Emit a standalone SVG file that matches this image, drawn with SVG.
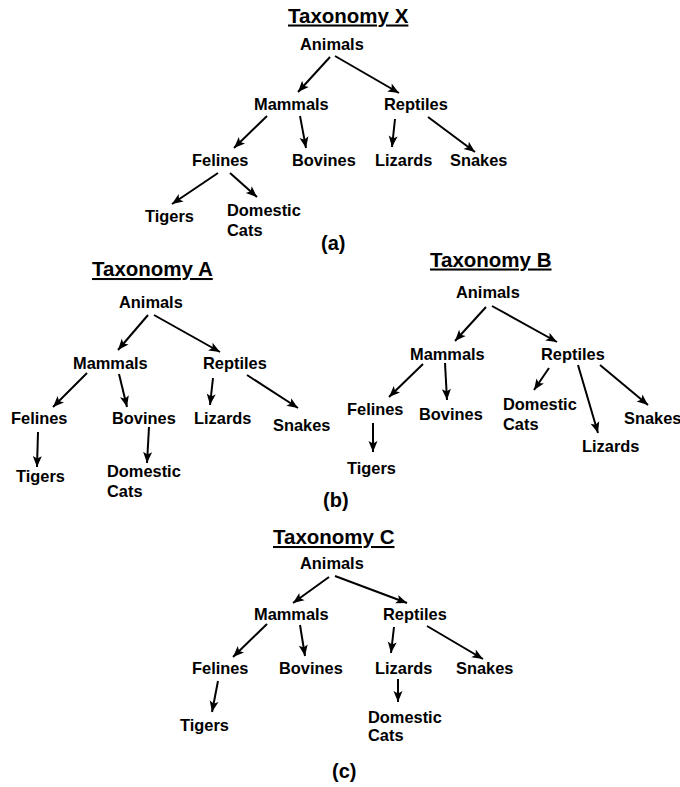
<svg xmlns="http://www.w3.org/2000/svg" width="680" height="787" viewBox="0 0 680 787">
<defs>
<marker id="ah" markerUnits="userSpaceOnUse" markerWidth="12" markerHeight="10" refX="11" refY="4.5" orient="auto" overflow="visible">
<path d="M0,0 L11,4.5 L0,9 L2.5,4.5 Z" fill="#000"/>
</marker>
<style>
text{font-family:"Liberation Sans",Arial,Helvetica,sans-serif;font-weight:bold;fill:#000}
.n{font-size:16.4px}
.t{font-size:20.5px;text-decoration:underline}
.c{font-size:20px}
.e line{stroke:#000;stroke-width:2;marker-end:url(#ah)}
</style>
</defs>
<rect width="680" height="787" fill="#fff"/>

<!-- Taxonomy X -->
<g id="taxX">
<text class="t" x="288" y="22.5">Taxonomy X</text>
<g id="x-animals"><text class="n" x="300" y="50">Animals</text></g>
<g id="x-mammals"><text class="n" x="254" y="110">Mammals</text></g>
<g id="x-reptiles"><text class="n" x="384" y="110">Reptiles</text></g>
<g id="x-felines"><text class="n" x="192" y="166">Felines</text></g>
<g id="x-bovines"><text class="n" x="292" y="166">Bovines</text></g>
<g id="x-lizards"><text class="n" x="375" y="166">Lizards</text></g>
<g id="x-snakes"><text class="n" x="450" y="166">Snakes</text></g>
<g id="x-tigers"><text class="n" x="145" y="221.5">Tigers</text></g>
<g id="x-domestic"><text class="n" x="227" y="216">Domestic</text><text class="n" x="227" y="235.5">Cats</text></g>
<text class="c" x="321" y="250">(a)</text>
</g>
<g id="edgesX" class="e">
<line x1="330" y1="57" x2="298" y2="92"/>
<line x1="335" y1="56" x2="399" y2="93"/>
<line x1="267" y1="116" x2="234" y2="148"/>
<line x1="300" y1="116" x2="306" y2="148"/>
<line x1="395" y1="119" x2="392" y2="147"/>
<line x1="428" y1="117" x2="475" y2="152"/>
<line x1="218" y1="173" x2="172" y2="204"/>
<line x1="230" y1="173" x2="257" y2="197"/>
</g>

<!-- Taxonomy A -->
<g id="taxA">
<text class="t" x="92" y="276">Taxonomy A</text>
<g id="a-animals"><text class="n" x="119" y="307.5">Animals</text></g>
<g id="a-mammals"><text class="n" x="73" y="368.5">Mammals</text></g>
<g id="a-reptiles"><text class="n" x="203" y="368.5">Reptiles</text></g>
<g id="a-felines"><text class="n" x="11" y="424">Felines</text></g>
<g id="a-bovines"><text class="n" x="112" y="424">Bovines</text></g>
<g id="a-lizards"><text class="n" x="194" y="424">Lizards</text></g>
<g id="a-snakes"><text class="n" x="273" y="430.5">Snakes</text></g>
<g id="a-tigers"><text class="n" x="16" y="482">Tigers</text></g>
<g id="a-domestic"><text class="n" x="107" y="476.5">Domestic</text><text class="n" x="107" y="496.5">Cats</text></g>
</g>
<g id="edgesA" class="e">
<line x1="148" y1="315" x2="118" y2="350"/>
<line x1="154" y1="315" x2="220" y2="352"/>
<line x1="87" y1="373" x2="53" y2="407"/>
<line x1="119" y1="374" x2="127" y2="407"/>
<line x1="213" y1="378" x2="210" y2="405"/>
<line x1="247" y1="375" x2="298" y2="408"/>
<line x1="38" y1="432" x2="37" y2="467"/>
<line x1="149" y1="427" x2="147" y2="463"/>
</g>

<text class="c" x="323" y="507">(b)</text>

<!-- Taxonomy B -->
<g id="taxB">
<text class="t" x="430" y="266.5">Taxonomy B</text>
<g id="b-animals"><text class="n" x="456" y="298">Animals</text></g>
<g id="b-mammals"><text class="n" x="410" y="359.5">Mammals</text></g>
<g id="b-reptiles"><text class="n" x="541" y="359.5">Reptiles</text></g>
<g id="b-felines"><text class="n" x="347" y="415">Felines</text></g>
<g id="b-bovines"><text class="n" x="419" y="419.5">Bovines</text></g>
<g id="b-domestic"><text class="n" x="503" y="410">Domestic</text><text class="n" x="503" y="429.5">Cats</text></g>
<g id="b-snakes"><text class="n" x="624" y="424">Snakes</text></g>
<g id="b-lizards"><text class="n" x="582" y="452">Lizards</text></g>
<g id="b-tigers"><text class="n" x="347" y="474">Tigers</text></g>
</g>
<g id="edgesB" class="e">
<line x1="486" y1="307" x2="455" y2="341"/>
<line x1="492" y1="306" x2="557" y2="342"/>
<line x1="423" y1="364" x2="389" y2="397"/>
<line x1="445" y1="363" x2="447" y2="400"/>
<line x1="549" y1="368" x2="534" y2="390"/>
<line x1="578" y1="365" x2="598" y2="433"/>
<line x1="600" y1="365" x2="648" y2="405"/>
<line x1="373" y1="423" x2="373" y2="452"/>
</g>

<!-- Taxonomy C -->
<g id="taxC">
<text class="t" x="273" y="544">Taxonomy C</text>
<g id="c-animals"><text class="n" x="300" y="568.5">Animals</text></g>
<g id="c-mammals"><text class="n" x="254" y="619.5">Mammals</text></g>
<g id="c-reptiles"><text class="n" x="383" y="619.5">Reptiles</text></g>
<g id="c-felines"><text class="n" x="192" y="673.5">Felines</text></g>
<g id="c-bovines"><text class="n" x="279" y="673.5">Bovines</text></g>
<g id="c-lizards"><text class="n" x="375" y="673.5">Lizards</text></g>
<g id="c-snakes"><text class="n" x="456" y="673.5">Snakes</text></g>
<g id="c-tigers"><text class="n" x="180" y="731">Tigers</text></g>
<g id="c-domestic"><text class="n" x="368" y="722.5">Domestic</text><text class="n" x="368" y="741">Cats</text></g>
<text class="c" x="332" y="778">(c)</text>
</g>
<g id="edgesC" class="e">
<line x1="329" y1="577" x2="293" y2="603"/>
<line x1="335" y1="576" x2="407" y2="603"/>
<line x1="267" y1="624" x2="233" y2="657"/>
<line x1="300" y1="625" x2="305" y2="656"/>
<line x1="394" y1="627" x2="391" y2="653"/>
<line x1="427" y1="626" x2="483" y2="659"/>
<line x1="218" y1="681" x2="212" y2="712"/>
<line x1="398" y1="679" x2="398" y2="702"/>
</g>
</svg>
